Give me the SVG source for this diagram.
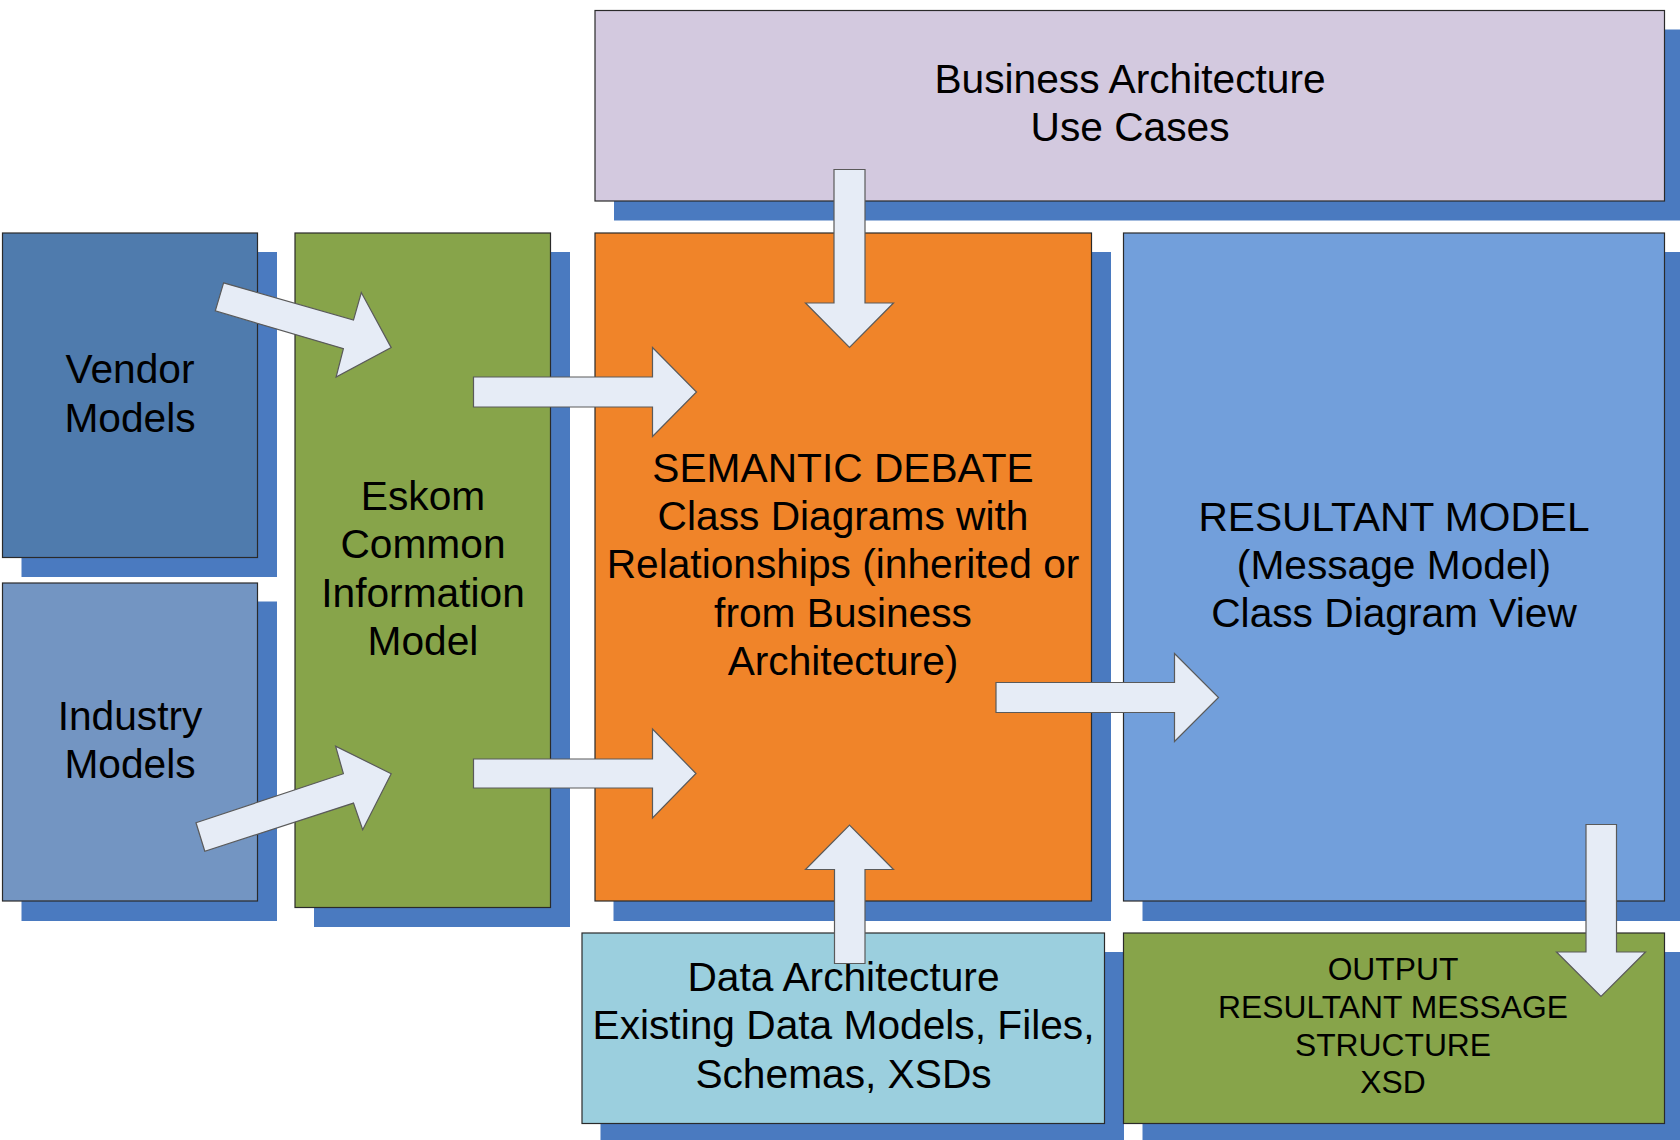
<svg xmlns="http://www.w3.org/2000/svg" width="1680" height="1140" viewBox="0 0 1680 1140">
<style>
.sh{fill:#4A7AC0;}
.bx{stroke:#2a2a2a;stroke-width:1.2;}
.t{font-family:"Liberation Sans",Arial,sans-serif;font-size:40.7px;fill:#000;text-anchor:middle;}
.ts{font-family:"Liberation Sans",Arial,sans-serif;font-size:31.8px;fill:#000;text-anchor:middle;}
.ar{fill:#E6ECF6;stroke:#5a5a5a;stroke-width:1.2;stroke-linejoin:miter;}
</style>
<rect width="1680" height="1140" fill="#ffffff"/>
<g id="shadows">
<rect class="sh" x="614" y="29.5" width="1070" height="191"/>
<rect class="sh" x="21.5" y="252" width="255.5" height="325"/>
<rect class="sh" x="21.5" y="601.5" width="255.5" height="319.5"/>
<rect class="sh" x="314" y="252" width="256" height="675"/>
<rect class="sh" x="613.5" y="252" width="497.5" height="669"/>
<rect class="sh" x="1142.5" y="252" width="541.5" height="669"/>
<rect class="sh" x="600.5" y="952" width="523.5" height="190"/>
<rect class="sh" x="1142.5" y="952" width="541.5" height="190"/>
</g>
<g id="business">
<rect class="bx" x="595" y="10.5" width="1069.5" height="190.5" fill="#D3C9DF"/>
<text class="t" x="1130" y="93">Business Architecture</text>
<text class="t" x="1130" y="141">Use Cases</text>
</g>
<g id="vendor">
<rect class="bx" x="2.5" y="233" width="255" height="324.5" fill="#4F7BAD"/>
<text class="t" x="130" y="383">Vendor</text>
<text class="t" x="130" y="432">Models</text>
</g>
<g id="industry">
<rect class="bx" x="2.5" y="583" width="255" height="318" fill="#7395C2"/>
<text class="t" x="130" y="730">Industry</text>
<text class="t" x="130" y="778">Models</text>
</g>
<g id="eskom">
<rect class="bx" x="295" y="233" width="255.5" height="674.5" fill="#87A44A"/>
<text class="t" x="423" y="510">Eskom</text>
<text class="t" x="423" y="558">Common</text>
<text class="t" x="423" y="607">Information</text>
<text class="t" x="423" y="655">Model</text>
</g>
<g id="semantic">
<rect class="bx" x="595" y="233" width="496.5" height="668" fill="#F08429"/>
<text class="t" x="843" y="482">SEMANTIC DEBATE</text>
<text class="t" x="843" y="530">Class Diagrams with</text>
<text class="t" x="843" y="578">Relationships (inherited or</text>
<text class="t" x="843" y="627">from Business</text>
<text class="t" x="843" y="675">Architecture)</text>
</g>
<g id="resultant">
<rect class="bx" x="1123.5" y="233" width="541" height="668" fill="#729FDB"/>
<text class="t" x="1394" y="531">RESULTANT MODEL</text>
<text class="t" x="1394" y="579">(Message Model)</text>
<text class="t" x="1394" y="627">Class Diagram View</text>
</g>
<g id="data">
<rect class="bx" x="582" y="933" width="522.5" height="190.5" fill="#9BCFDE"/>
<text class="t" x="843.5" y="991">Data Architecture</text>
<text class="t" x="843.5" y="1039">Existing Data Models, Files,</text>
<text class="t" x="843.5" y="1088">Schemas, XSDs</text>
</g>
<g id="output">
<rect class="bx" x="1123.5" y="933" width="541" height="190.5" fill="#87A44A"/>
<text class="ts" x="1393" y="980">OUTPUT</text>
<text class="ts" x="1393" y="1018">RESULTANT MESSAGE</text>
<text class="ts" x="1393" y="1056">STRUCTURE</text>
<text class="ts" x="1393" y="1093">XSD</text>
</g>
<g id="connectors">
<polygon class="ar" points="223.6,282.9 353.5,320.1 361.3,292.5 391.2,347.6 336.1,377 343.4,348.6 215.3,310.9"/>
<polygon class="ar" points="196,822.8 343.4,773.7 335.6,746.2 391.2,773.7 362.7,829.7 353.5,803.1 204.8,851.3"/>
<polygon class="ar" points="473.5,377 652.5,377 652.5,347.5 696.5,392 652.5,436.5 652.5,407 473.5,407"/>
<polygon class="ar" points="473.5,759 652.5,759 652.5,729 696,773.5 652.5,818 652.5,788 473.5,788"/>
<polygon class="ar" points="834,169.5 865,169.5 865,303 893.5,303 849.5,347.5 805.5,303 834,303"/>
<polygon class="ar" points="996,682.5 1174.5,682.5 1174.5,653.5 1218.5,697.5 1174.5,741.5 1174.5,712.5 996,712.5"/>
<polygon class="ar" points="834.5,963.5 865,963.5 865,869.5 893.5,869.5 849.5,825 805.5,869.5 834.5,869.5"/>
<polygon class="ar" points="1586,824.5 1616.5,824.5 1616.5,952 1645.5,952 1601,996.5 1556.5,952 1586,952"/>
</g>
</svg>
